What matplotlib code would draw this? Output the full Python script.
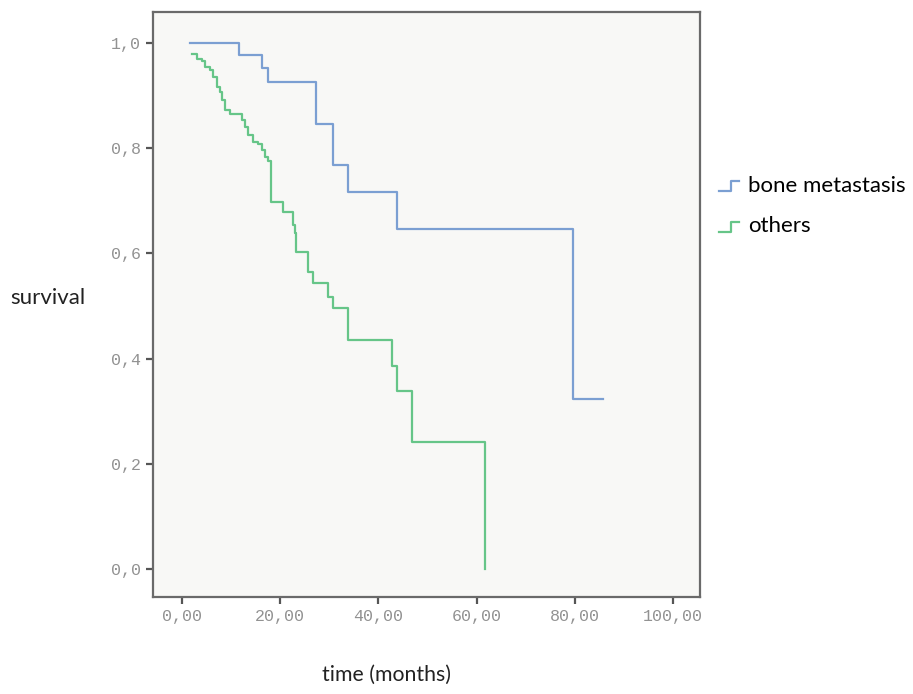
import matplotlib
matplotlib.use("Agg")
import matplotlib.pyplot as plt
from matplotlib.lines import Line2D
from matplotlib.legend_handler import HandlerLine2D

# Kaplan-Meier steps (months, survival)
bone_t = [1.6, 11.7, 16.2, 17.6, 27.4, 30.7, 33.9, 43.7, 79.7, 85.8]
bone_s = [1.0, 0.978, 0.953, 0.925, 0.847, 0.768, 0.717, 0.646, 0.323, 0.323]

other_t = [2.0, 3.0, 4.0, 4.7, 5.7, 6.4, 7.1, 7.7, 8.1, 8.8, 9.8, 12.2, 12.8,
           13.5, 14.5, 15.5, 16.2, 16.9, 17.6, 18.2, 20.6, 22.7, 23.0, 23.3,
           25.7, 26.7, 29.8, 30.8, 33.9, 42.7, 43.7, 46.8, 61.8]
other_s = [0.980, 0.969, 0.965, 0.955, 0.949, 0.936, 0.917, 0.907, 0.891,
           0.873, 0.866, 0.854, 0.841, 0.825, 0.812, 0.808, 0.797, 0.784,
           0.775, 0.698, 0.679, 0.655, 0.639, 0.603, 0.565, 0.543, 0.518,
           0.496, 0.435, 0.386, 0.338, 0.241, 0.0]

x_ticks = [0, 20, 40, 60, 80, 100]
y_ticks = [0.0, 0.2, 0.4, 0.6, 0.8, 1.0]

blue = '#7b9fd2'
green = '#66c588'


class StepHandler(HandlerLine2D):
    # small "_|-" glyph like the SPSS legend
    def create_artists(self, legend, orig_handle, xdescent, ydescent,
                       width, height, fontsize, trans):
        w, h = width, height
        xs = [0, 0.6 * w, 0.6 * w, w]
        ys = [0.05 * h, 0.05 * h, 0.7 * h, 0.7 * h]
        ln = Line2D(xs, ys, color=orig_handle.get_color(), lw=orig_handle.get_linewidth())
        ln.set_transform(trans)
        return [ln]


fig = plt.figure(figsize=(9.13, 6.94), dpi=100)
ax = fig.add_axes([0.1676, 0.1398, 0.599, 0.8429])
ax.set_facecolor('#f8f8f6')

l1, = ax.step(bone_t, bone_s, where='post', color=blue, lw=1.6)
l2, = ax.step(other_t, other_s, where='post', color=green, lw=1.6)

ax.set_xlim(-5.9, 105.5)
ax.set_ylim(-0.053, 1.059)
ax.set_xticks(x_ticks)
ax.set_xticklabels(['%d,00' % v for v in x_ticks])
ax.set_yticks(y_ticks)
ax.set_yticklabels([('%.1f' % v).replace('.', ',') for v in y_ticks])
ax.tick_params(length=5, width=1.6, color='#555555', labelcolor='#929292',
               labelsize=12, pad=4)
for lab in ax.get_xticklabels() + ax.get_yticklabels():
    lab.set_family('Liberation Mono')
for sp in ax.spines.values():
    sp.set_color('#6a6a6a')
    sp.set_linewidth(1.6)

fig.text(0.011, 1 - 298 / 694, 'survival', fontsize=16, family='Lato',
         va='center', ha='left', color='#222222')
fig.text(386 / 913, 1 - 675 / 694, 'time (months)', fontsize=15.3, family='Lato',
         va='center', ha='center', color='#222222')

fig.legend([l1, l2], ['bone metastasis', 'others'], handler_map={Line2D: StepHandler()},
           loc='upper left', bbox_to_anchor=(0.766, 1 - 156 / 694), frameon=False,
           prop={'family': 'Lato', 'size': 16}, handlelength=0.9,
           handletextpad=0.4, labelspacing=0.92)

fig.savefig('out.png', dpi=100, facecolor='white')
